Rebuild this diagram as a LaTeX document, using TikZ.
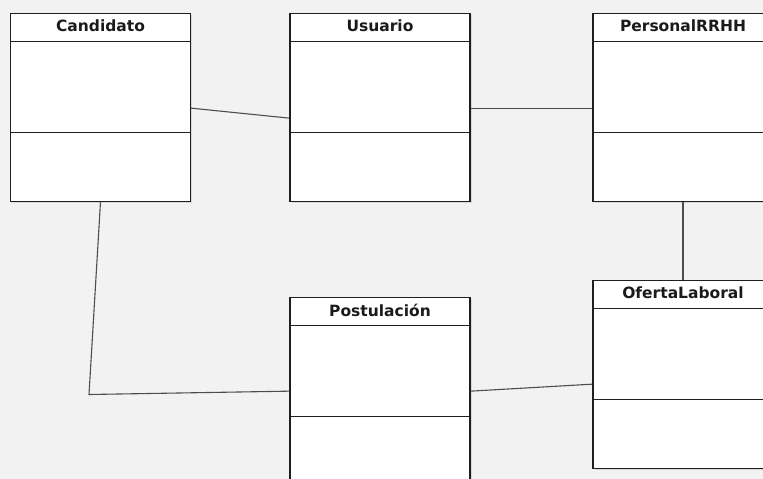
\documentclass[tikz,border=0pt]{standalone}
\usepackage{fontspec}
\setmainfont{DejaVu Sans}
\usetikzlibrary{calc,shadows}
\definecolor{bgcol}{HTML}{F2F2F2}
\definecolor{edgecol}{HTML}{1E1E1E}
\definecolor{linkcol}{HTML}{4D4D4D}
\definecolor{textcol}{HTML}{1A1A1A}
\tikzset{
  classbox/.style={draw=edgecol, line width=1.3pt, fill=white, rectangle,
    minimum width=180pt, minimum height=188pt, inner sep=0pt,
    drop shadow={shadow xshift=1.5pt, shadow yshift=-1.5pt, opacity=0.22}},
  classtitle/.style={font=\fontsize{15.5}{18}\selectfont\bfseries, text=textcol,
    anchor=center, inner sep=0pt},
  divider/.style={draw=edgecol, line width=1.2pt},
  link/.style={draw=linkcol, line width=1.1pt}
}
% \umlclass{name}{center x}{top y}{title}
\newcommand{\umlclass}[4]{%
  \node[classbox, anchor=north] (#1) at (#2,#3) {};
  \node[classtitle] (#1-title) at ($(#1.north)+(0,13.5)$) {#4};
  \draw[divider] ($(#1.north west)+(0,29)$) -- ($(#1.north east)+(0,29)$);
  \draw[divider] ($(#1.north west)+(0,120)$) -- ($(#1.north east)+(0,120)$);
}
\begin{document}
\begin{tikzpicture}[x=1pt, y=-1pt]
  \fill[bgcol] (0,0) rectangle (763,479);
  \useasboundingbox (0,0) rectangle (763,479);

  \umlclass{cand}{100.5}{12.5}{Candidato}
  \umlclass{usu}{380}{12.5}{Usuario}
  \umlclass{rrhh}{683}{12.5}{PersonalRRHH}
  \umlclass{post}{380}{296.5}{Postulación}
  \umlclass{ofer}{683}{279.5}{OfertaLaboral}

  \coordinate (bend) at (89,394.5);

  \draw[link] ($(cand.east)+(0,1)$) -- ($(usu.west)+(0,11)$);
  \draw[link] ($(usu.east)+(0,1)$) -- ($(rrhh.west)+(0,1)$);
  \draw[link] (rrhh.south) -- (ofer.north);
  \draw[link] (cand.south) -- (bend) -- (post.west);
  \draw[link] (post.east) -- ($(ofer.west)+(0,10)$);
\end{tikzpicture}
\end{document}
